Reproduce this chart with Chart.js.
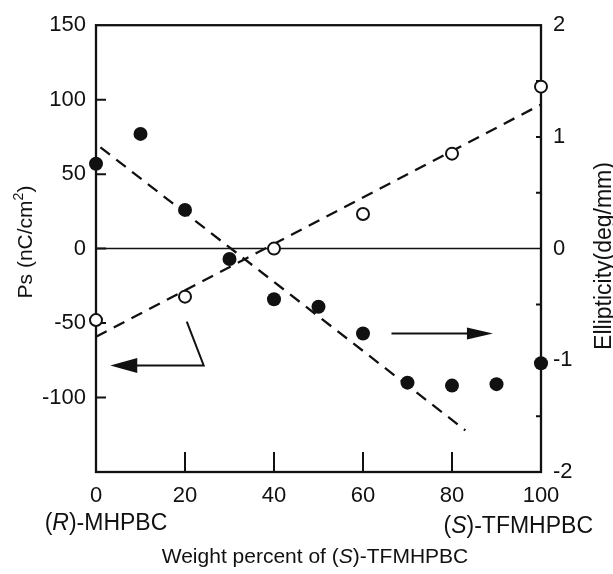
<!DOCTYPE html>
<html>
<head>
<meta charset="utf-8">
<title>Ps and ellipticity vs weight percent</title>
<script src="https://cdn.jsdelivr.net/npm/chart.js@4.4.0/dist/chart.umd.min.js"></script>
<style>
  html, body { margin: 0; padding: 0; background: #fff; }
  #wrap { position: relative; width: 613px; height: 574px; }
</style>
</head>
<body>
<div id="wrap"><canvas id="chart"></canvas></div>
<script>
'use strict';

// weight percent of (S)-TFMHPBC
const psX = [0, 10, 20, 30, 40, 50, 60, 70, 80, 90, 100];
const psValues = [57, 77, 26, -7, -34, -39, -57, -90, -92, -91, -77];   // nC/cm2, filled circles
const ellipX = [0, 20, 40, 60, 80, 100];
const ellipValues = [-0.64, -0.43, 0.0, 0.31, 0.85, 1.45];             // deg/mm, open circles

// dashed guide lines
const psFitX = [1, 83];
const psFitY = [68, -122];
const ellipFitX = [0, 100];
const ellipFitY = [-0.79, 1.29];

// arrows telling which axis each set uses (in x / Ps units)
const leftArrowX = [20.4, 24.2, 3.2];
const leftArrowY = [-49, -78.5, -78.5];
const rightArrowX = [66.4, 89.2];
const rightArrowY = [-57, -57];

// inner tick marks
const xTickMarks = [20, 40, 60, 80];
const psTickMarks = [-100, -50, 0, 50, 100];
const ellipTickMarks = [-1.5, -1, -0.5, 0.5, 1, 1.5];

const FONT = '"Liberation Sans", Arial, Helvetica, sans-serif';
const INK = '#111';

const pts = (xs, ys) => xs.map((x, i) => ({ x: x, y: ys[i] }));

// text with italic / superscript pieces: [text, style]
function richText(ctx, parts, x, y, size, align) {
  const fontOf = st => (st === 'i' ? 'italic ' : '') + (st === 'sup' ? Math.round(size * 0.65) : size) + 'px ' + FONT;
  let total = 0;
  const widths = parts.map(p => { ctx.font = fontOf(p[1]); const w = ctx.measureText(p[0]).width; total += w; return w; });
  let cx = align === 'center' ? x - total / 2 : align === 'right' ? x - total : x;
  ctx.textBaseline = 'alphabetic';
  ctx.textAlign = 'left';
  parts.forEach((p, i) => {
    ctx.font = fontOf(p[1]);
    ctx.fillText(p[0], cx, p[1] === 'sup' ? y - size * 0.42 : y);
    cx += widths[i];
  });
}

function arrowHead(ctx, tx, ty, dir, len, half) {
  ctx.beginPath();
  ctx.moveTo(tx, ty);
  ctx.lineTo(tx - dir * len, ty - half);
  ctx.lineTo(tx - dir * len, ty + half);
  ctx.closePath();
  ctx.fill();
}

const decor = {
  id: 'decor',
  beforeDatasetsDraw(chart) {
    const { ctx, chartArea: a, scales } = chart;
    ctx.save();
    ctx.strokeStyle = INK;
    // zero line
    const y0 = scales.y.getPixelForValue(0);
    ctx.lineWidth = 1.5;
    ctx.beginPath(); ctx.moveTo(a.left, y0); ctx.lineTo(a.right, y0); ctx.stroke();
    // frame
    ctx.lineWidth = 2.3;
    ctx.strokeRect(a.left, a.top, a.right - a.left, a.bottom - a.top);
    // tick marks pointing inward
    ctx.lineWidth = 2;
    ctx.beginPath();
    xTickMarks.forEach(v => { const px = scales.x.getPixelForValue(v); ctx.moveTo(px, a.bottom); ctx.lineTo(px, a.bottom - 20); });
    psTickMarks.forEach(v => { const py = scales.y.getPixelForValue(v); ctx.moveTo(a.left, py); ctx.lineTo(a.left + 10, py); });
    ellipTickMarks.forEach(v => { const py = scales.y2.getPixelForValue(v); ctx.moveTo(a.right, py); ctx.lineTo(a.right - 5, py); });
    ctx.stroke();
    ctx.restore();
  },
  afterDraw(chart) {
    const { ctx, scales } = chart;
    const sx = v => scales.x.getPixelForValue(v);
    const sy = v => scales.y.getPixelForValue(v);
    ctx.save();
    ctx.strokeStyle = INK;
    ctx.fillStyle = INK;
    ctx.lineWidth = 2;
    // left arrow, bent, pointing to the Ps axis
    ctx.beginPath();
    ctx.moveTo(sx(leftArrowX[0]), sy(leftArrowY[0]));
    ctx.lineTo(sx(leftArrowX[1]), sy(leftArrowY[1]));
    ctx.lineTo(sx(leftArrowX[2]) + 20, sy(leftArrowY[2]));
    ctx.stroke();
    arrowHead(ctx, sx(leftArrowX[2]), sy(leftArrowY[2]), -1, 27, 7.5);
    // right arrow, pointing to the ellipticity axis
    ctx.beginPath();
    ctx.moveTo(sx(rightArrowX[0]), sy(rightArrowY[0]));
    ctx.lineTo(sx(rightArrowX[1]) - 20, sy(rightArrowY[1]));
    ctx.stroke();
    arrowHead(ctx, sx(rightArrowX[1]), sy(rightArrowY[1]), 1, 26, 6);

    // labels
    richText(ctx, [['(', ''], ['R', 'i'], [')-MHPBC', '']], 106, 530, 23, 'center');
    richText(ctx, [['(', ''], ['S', 'i'], [')-TFMHPBC', '']], 593, 533, 23, 'right');
    richText(ctx, [['Weight percent of (', ''], ['S', 'i'], [')-TFMHPBC', '']], 315, 563, 21, 'center');

    ctx.save();
    ctx.translate(32, 242);
    ctx.rotate(-Math.PI / 2);
    richText(ctx, [['Ps (nC/cm', ''], ['2', 'sup'], [')', '']], 0, 0, 21, 'center');
    ctx.restore();

    ctx.save();
    ctx.translate(611, 256);
    ctx.rotate(-Math.PI / 2);
    richText(ctx, [['Ellipticity(deg/mm)', '']], 0, 0, 23, 'center');
    ctx.restore();

    ctx.restore();
  }
};

const tickFont = { family: FONT, size: 22 };

new Chart(document.getElementById('chart'), {
  type: 'scatter',
  data: {
    datasets: [
      {
        label: 'Ps',
        data: pts(psX, psValues),
        yAxisID: 'y',
        pointRadius: 7,
        pointHoverRadius: 7,
        backgroundColor: INK,
        borderColor: INK,
        borderWidth: 0,
        clip: false,
        order: 1
      },
      {
        label: 'Ellipticity',
        data: pts(ellipX, ellipValues),
        yAxisID: 'y2',
        pointRadius: 6,
        pointHoverRadius: 6,
        backgroundColor: '#fff',
        borderColor: INK,
        borderWidth: 2,
        clip: false,
        order: 1
      },
      {
        label: 'Ps fit',
        data: pts(psFitX, psFitY),
        yAxisID: 'y',
        showLine: true,
        pointRadius: 0,
        borderColor: INK,
        borderWidth: 2.3,
        borderDash: [12, 8],
        order: 3
      },
      {
        label: 'Ellipticity fit',
        data: pts(ellipFitX, ellipFitY),
        yAxisID: 'y2',
        showLine: true,
        pointRadius: 0,
        borderColor: INK,
        borderWidth: 2.3,
        borderDash: [12, 8],
        order: 3
      }
    ]
  },
  options: {
    responsive: true,
    maintainAspectRatio: false,
    animation: false,
    layout: { padding: { top: 20, left: 0, right: 0, bottom: 0 } },
    plugins: { legend: { display: false }, tooltip: { enabled: false } },
    scales: {
      x: {
        type: 'linear',
        min: 0, max: 100,
        ticks: { stepSize: 20, padding: 11, color: INK, font: tickFont, maxRotation: 0 },
        grid: { display: false, drawTicks: false },
        border: { display: false },
        afterFit(s) { s.height = 102; }
      },
      y: {
        type: 'linear',
        position: 'left',
        min: -150, max: 150,
        ticks: {
          stepSize: 50, padding: 10, color: INK, font: tickFont,
          callback: v => (v === -150 ? null : v)
        },
        grid: { display: false, drawTicks: false },
        border: { display: false },
        afterFit(s) { s.width = 96; }
      },
      y2: {
        type: 'linear',
        position: 'right',
        min: -2, max: 2,
        ticks: { stepSize: 1, padding: 12, color: INK, font: tickFont },
        grid: { display: false, drawTicks: false },
        border: { display: false },
        afterFit(s) { s.width = 72; }
      }
    }
  },
  plugins: [decor]
});
</script>
</body>
</html>
